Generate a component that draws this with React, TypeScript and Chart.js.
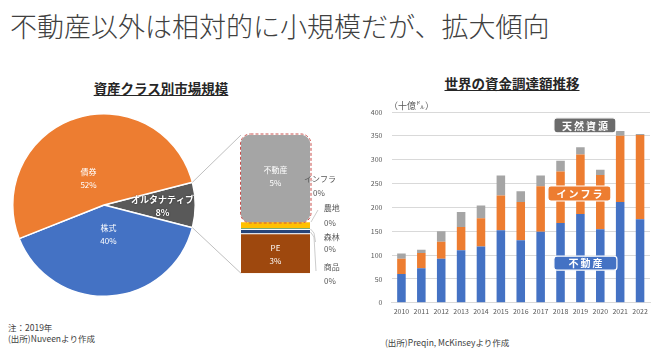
import React, { useEffect, useRef } from 'react';
import { Chart, registerables } from 'chart.js';
Chart.register(...registerables);

const FONT = '"Noto Sans CJK JP", "Noto Sans", sans-serif';

// ---- Left: pie (asset class market size, 2019) ----
const pieLabels = ['オルタナティブ', '株式', '債券'];
const pieValues = [8, 40, 52];
const pieColors = ['#595959', '#4472C4', '#ED7D31'];

// ---- Left: breakdown column of alternatives (bottom -> top) ----
const altLabels = ['PE', '商品', '森林', '農地', 'インフラ', '不動産'];
const altValues = [2.3, 0.25, 0.02, 0.02, 0.35, 5.06];
const altShown = ['3%', '0%', '0%', '0%', '0%', '5%'];
const altColors = ['#9E480E', '#264478', '#70AD47', '#5B9BD5', '#FFC000', '#A5A5A5'];

// ---- Right: global fundraising (billion USD) ----
const years = ['2010', '2011', '2012', '2013', '2014', '2015', '2016', '2017', '2018', '2019', '2020', '2021', '2022'];
const realEstate = [60, 72, 92, 110, 118, 152, 131, 149, 167, 186, 154, 211, 175];
const infra = [32, 32, 36, 49, 59, 73, 80, 95, 108, 125, 114, 139, 177];
const natRes = [11, 7, 22, 31, 27, 42, 23, 23, 23, 15, 11, 10, 2];
const yMax = 400;
const yStep = 50;

// label styles for pie (angle offset in deg, radius fraction)
const pieLabelStyle = [
  { dAng: 1.5, frac: 0.64, bold: true, size: 9 },
  { dAng: -4.9, frac: 0.33, bold: false, size: 8 },
  { dAng: -12.3, frac: 0.336, bold: false, size: 8 },
];

const PIE_POS = { left: 12, top: 113, size: 184 };
const COL_POS = { left: 180, top: 120, w: 165, h: 185 };
const BAR_POS = { left: 355, top: 95, w: 305, h: 230 };

function txt(ctx: CanvasRenderingContext2D, s: string, x: number, y: number, font: string, color: string, align: CanvasTextAlign = 'center') {
  ctx.save();
  ctx.font = font;
  ctx.fillStyle = color;
  ctx.textAlign = align;
  ctx.textBaseline = 'middle';
  ctx.fillText(s, x, y);
  ctx.restore();
}

export default function App() {
  const pieRef = useRef<HTMLCanvasElement>(null);
  const colRef = useRef<HTMLCanvasElement>(null);
  const barRef = useRef<HTMLCanvasElement>(null);

  useEffect(() => {
    document.body.style.margin = '0';

    const pieLabelPlugin = {
      id: 'pieLabels',
      afterDatasetsDraw(chart: any) {
        const ctx = chart.ctx;
        const meta = chart.getDatasetMeta(0);
        meta.data.forEach((arc: any, i: number) => {
          const p = arc.getProps(['x', 'y', 'startAngle', 'endAngle', 'outerRadius'], true);
          const st = pieLabelStyle[i];
          const mid = (p.startAngle + p.endAngle) / 2 + (st.dAng * Math.PI) / 180;
          const r = p.outerRadius * st.frac;
          const cx = p.x + Math.cos(mid) * r;
          const cy = p.y + Math.sin(mid) * r;
          const f = `${st.bold ? 'bold ' : ''}${st.size}px ${FONT}`;
          ctx.save();
          if (st.bold) {
            ctx.shadowColor = 'rgba(0,0,0,0.6)';
            ctx.shadowBlur = 2;
          }
          txt(ctx, pieLabels[i], cx, cy - 6.5, f, '#FFFFFF');
          txt(ctx, pieValues[i] + '%', cx, cy + 6.5, f, '#FFFFFF');
          ctx.restore();
        });
      },
    };

    const pie = new Chart(pieRef.current!, {
      type: 'pie',
      data: {
        labels: pieLabels,
        datasets: [{ data: pieValues, backgroundColor: pieColors, borderColor: '#FFFFFF', borderWidth: 1.5 }],
      },
      options: {
        responsive: false,
        animation: false,
        devicePixelRatio: 1,
        rotation: 75.6,
        layout: { padding: 0 },
        plugins: { legend: { display: false }, tooltip: { enabled: false } },
      },
      plugins: [pieLabelPlugin],
    });

    const altPlugin = {
      id: 'altDecor',
      afterDatasetsDraw(chart: any) {
        const ctx = chart.ctx as CanvasRenderingContext2D;
        const top = chart.getDatasetMeta(5).data[0].getProps(['x', 'y', 'base', 'width'], true);
        const bot = chart.getDatasetMeta(0).data[0].getProps(['x', 'y', 'base', 'width'], true);
        const left = top.x - top.width / 2;
        const right = top.x + top.width / 2;

        // dashed rounded outline around 不動産
        ctx.save();
        ctx.strokeStyle = '#C9504D';
        ctx.lineWidth = 1;
        ctx.setLineDash([3, 2]);
        ctx.beginPath();
        (ctx as any).roundRect(left - 0.5, top.y - 1, top.width + 1.5, top.base - top.y + 1.5, 10);
        ctx.stroke();
        ctx.restore();

        // connector lines from pie "other" slice
        const arc = pie.getDatasetMeta(0).data[0].getProps(['x', 'y', 'startAngle', 'endAngle', 'outerRadius'], true) as any;
        const ox = PIE_POS.left - COL_POS.left;
        const oy = PIE_POS.top - COL_POS.top;
        const p1 = { x: ox + arc.x + Math.cos(arc.startAngle) * arc.outerRadius, y: oy + arc.y + Math.sin(arc.startAngle) * arc.outerRadius };
        const p2 = { x: ox + arc.x + Math.cos(arc.endAngle) * arc.outerRadius, y: oy + arc.y + Math.sin(arc.endAngle) * arc.outerRadius };
        ctx.save();
        ctx.strokeStyle = '#BFBFBF';
        ctx.lineWidth = 1;
        ctx.beginPath();
        ctx.moveTo(p1.x, p1.y);
        ctx.lineTo(left, top.y);
        ctx.moveTo(p2.x, p2.y);
        ctx.lineTo(left, bot.base);
        ctx.stroke();
        ctx.restore();

        // inside labels
        const f8 = `8px ${FONT}`;
        const cyTop = (top.y + top.base) / 2;
        txt(ctx, altLabels[5], top.x, cyTop - 9, f8, '#FFFFFF');
        txt(ctx, altShown[5], top.x, cyTop + 4.5, f8, '#FFFFFF');
        const cyBot = (bot.y + bot.base) / 2;
        txt(ctx, altLabels[0], bot.x, cyBot - 5, f8, '#FFFFFF');
        txt(ctx, altShown[0], bot.x, cyBot + 8, f8, '#FFFFFF');

        // outside labels with leader lines (インフラ, 農地, 森林, 商品)
        const oyc = -COL_POS.top;
        const side = [
          { i: 4, lx: right + 10, ly: 179.3 + oyc, vx: right + 9, vy: 192.7 + oyc, line: [[right + 0.5, 181.5 + oyc], [right + 3.5, 180 + oyc]] },
          { i: 3, lx: right + 21.7, ly: 208 + oyc, vx: right + 20, vy: 223 + oyc, line: [[right + 8, 210 + oyc], [right + 1, 222 + oyc]] },
          { i: 2, lx: right + 21.7, ly: 237 + oyc, vx: right + 20, vy: 249 + oyc, line: [[right + 0.5, 229 + oyc], [right + 4, 233 + oyc], [right + 5.5, 242 + oyc]] },
          { i: 1, lx: right + 21.7, ly: 267 + oyc, vx: right + 20, vy: 281 + oyc, line: [[right + 0.5, 232 + oyc], [right + 4, 237 + oyc], [right + 6, 271 + oyc]] },
        ];
        ctx.save();
        ctx.strokeStyle = '#BFBFBF';
        ctx.lineWidth = 0.8;
        side.forEach((s) => {
          ctx.beginPath();
          s.line.forEach((pt, k) => (k === 0 ? ctx.moveTo(pt[0], pt[1]) : ctx.lineTo(pt[0], pt[1])));
          ctx.stroke();
          txt(ctx, altLabels[s.i], s.lx, s.ly, f8, '#595959', 'center');
          txt(ctx, altShown[s.i], s.vx, s.vy, f8, '#595959', 'center');
        });
        ctx.restore();
      },
    };

    const total = altValues.reduce((a, b) => a + b, 0);
    const col = new Chart(colRef.current!, {
      type: 'bar',
      data: {
        labels: ['オルタナティブ'],
        datasets: altLabels.map((l, i) => ({
          label: l,
          data: [altValues[i]],
          backgroundColor: altColors[i],
          borderColor: '#FFFFFF',
          borderWidth: i === 5 ? 0 : i === 0 || i === 1 ? { top: 1 } : 0,
          borderRadius: i === 5 ? 10 : 0,
          borderSkipped: i === 5 ? false : 'start',
          barPercentage: 1,
          categoryPercentage: 1,
        })) as any,
      },
      options: {
        responsive: false,
        animation: false,
        devicePixelRatio: 1,
        layout: { padding: { left: 61, right: 35, top: 15, bottom: 31.7 } },
        scales: {
          x: { display: false, stacked: true },
          y: { display: false, stacked: true, min: 0, max: total },
        },
        plugins: { legend: { display: false }, tooltip: { enabled: false } },
      },
      plugins: [altPlugin],
    });

    const annos = [
      { text: '天然資源', idx: 9, dx: 4.5, v: 372, w: 62, h: 15, fill: '#6B6B6B' },
      { text: 'インフラ', idx: 9, dx: -1, v: 229, w: 63, h: 15, fill: '#ED7D31' },
      { text: '不動産', idx: 9, dx: 5, v: 83, w: 63, h: 14, fill: '#4472C4' },
    ];
    const annoPlugin = {
      id: 'annos',
      afterDatasetsDraw(chart: any) {
        const ctx = chart.ctx as CanvasRenderingContext2D;
        const xs = chart.scales.x;
        const ys = chart.scales.y;
        annos.forEach((a) => {
          const cx = xs.getPixelForValue(a.idx) + a.dx;
          const cy = ys.getPixelForValue(a.v);
          ctx.save();
          ctx.fillStyle = a.fill;
          ctx.strokeStyle = '#FFFFFF';
          ctx.lineWidth = 1.2;
          ctx.beginPath();
          (ctx as any).roundRect(cx - a.w / 2, cy - a.h / 2, a.w, a.h, 3);
          ctx.fill();
          ctx.stroke();
          ctx.font = `bold 10px ${FONT}`;
          (ctx as any).letterSpacing = '2px';
          ctx.fillStyle = '#FFFFFF';
          ctx.textAlign = 'center';
          ctx.textBaseline = 'middle';
          ctx.fillText(a.text, cx + 1, cy + 0.5);
          ctx.restore();
        });
      },
    };

    const bar = new Chart(barRef.current!, {
      type: 'bar',
      data: {
        labels: years,
        datasets: [
          { label: '不動産', data: realEstate, backgroundColor: '#4472C4', barPercentage: 0.43, categoryPercentage: 1 },
          { label: 'インフラ', data: infra, backgroundColor: '#ED7D31', barPercentage: 0.43, categoryPercentage: 1 },
          { label: '天然資源', data: natRes, backgroundColor: '#A5A5A5', barPercentage: 0.43, categoryPercentage: 1 },
        ],
      },
      options: {
        responsive: false,
        animation: false,
        devicePixelRatio: 1,
        layout: { padding: { top: 17, right: 10, left: 0, bottom: 0 } },
        scales: {
          x: {
            stacked: true,
            grid: { display: false, drawTicks: false },
            border: { display: true, color: '#D9D9D9' },
            ticks: { font: { family: FONT, size: 7 }, color: '#595959', padding: 4, maxRotation: 0, autoSkip: false },
            afterFit: (s: any) => { s.height = 22.3; },
          },
          y: {
            stacked: true,
            min: 0,
            max: yMax,
            grid: { color: '#D9D9D9', drawTicks: false },
            border: { display: false },
            ticks: { stepSize: yStep, font: { family: FONT, size: 7 }, color: '#595959', padding: 9 },
            afterFit: (s: any) => { s.width = 36.5; },
          },
        },
        plugins: { legend: { display: false }, tooltip: { enabled: false } },
      },
      plugins: [annoPlugin],
    });

    return () => {
      bar.destroy();
      col.destroy();
      pie.destroy();
    };
  }, []);

  const abs = (l: number, t: number): React.CSSProperties => ({ position: 'absolute', left: l, top: t, whiteSpace: 'nowrap' });

  return (
    <div style={{ position: 'fixed', left: 0, top: 0, width: 660, height: 351, background: '#FFFFFF', overflow: 'hidden', fontFamily: FONT }}>
      <div style={{ ...abs(10, 10), fontSize: 27, lineHeight: '32px', color: '#404040', fontWeight: 300 }}>不動産以外は相対的に小規模だが、拡大傾向</div>

      <div style={{ ...abs(61, 79), width: 200, textAlign: 'center', fontSize: 13.5, lineHeight: '18px', fontWeight: 'bold', color: '#262626', textDecoration: 'underline' }}>資産クラス別市場規模</div>
      <div style={{ ...abs(412, 74), width: 200, textAlign: 'center', fontSize: 13.5, lineHeight: '18px', fontWeight: 'bold', color: '#262626', textDecoration: 'underline' }}>世界の資金調達額推移</div>

      <canvas ref={pieRef} width={PIE_POS.size} height={PIE_POS.size} style={{ position: 'absolute', left: PIE_POS.left, top: PIE_POS.top, width: PIE_POS.size, height: PIE_POS.size }} />
      <canvas ref={colRef} width={COL_POS.w} height={COL_POS.h} style={{ position: 'absolute', left: COL_POS.left, top: COL_POS.top, width: COL_POS.w, height: COL_POS.h }} />
      <canvas ref={barRef} width={BAR_POS.w} height={BAR_POS.h} style={{ position: 'absolute', left: BAR_POS.left, top: BAR_POS.top, width: BAR_POS.w, height: BAR_POS.h }} />

      <div style={{ ...abs(389, 100), fontSize: 9, lineHeight: '12px', color: '#595959' }}>（十億㌦）</div>

      <div style={{ ...abs(8, 322), fontSize: 8.5, lineHeight: '11px', color: '#404040' }}>注：2019年</div>
      <div style={{ ...abs(8, 333), fontSize: 8.5, lineHeight: '11px', color: '#404040' }}>(出所)Nuveenより作成</div>
      <div style={{ ...abs(385, 337), fontSize: 8.5, lineHeight: '11px', color: '#404040' }}>(出所)Preqin, McKinseyより作成</div>
    </div>
  );
}
